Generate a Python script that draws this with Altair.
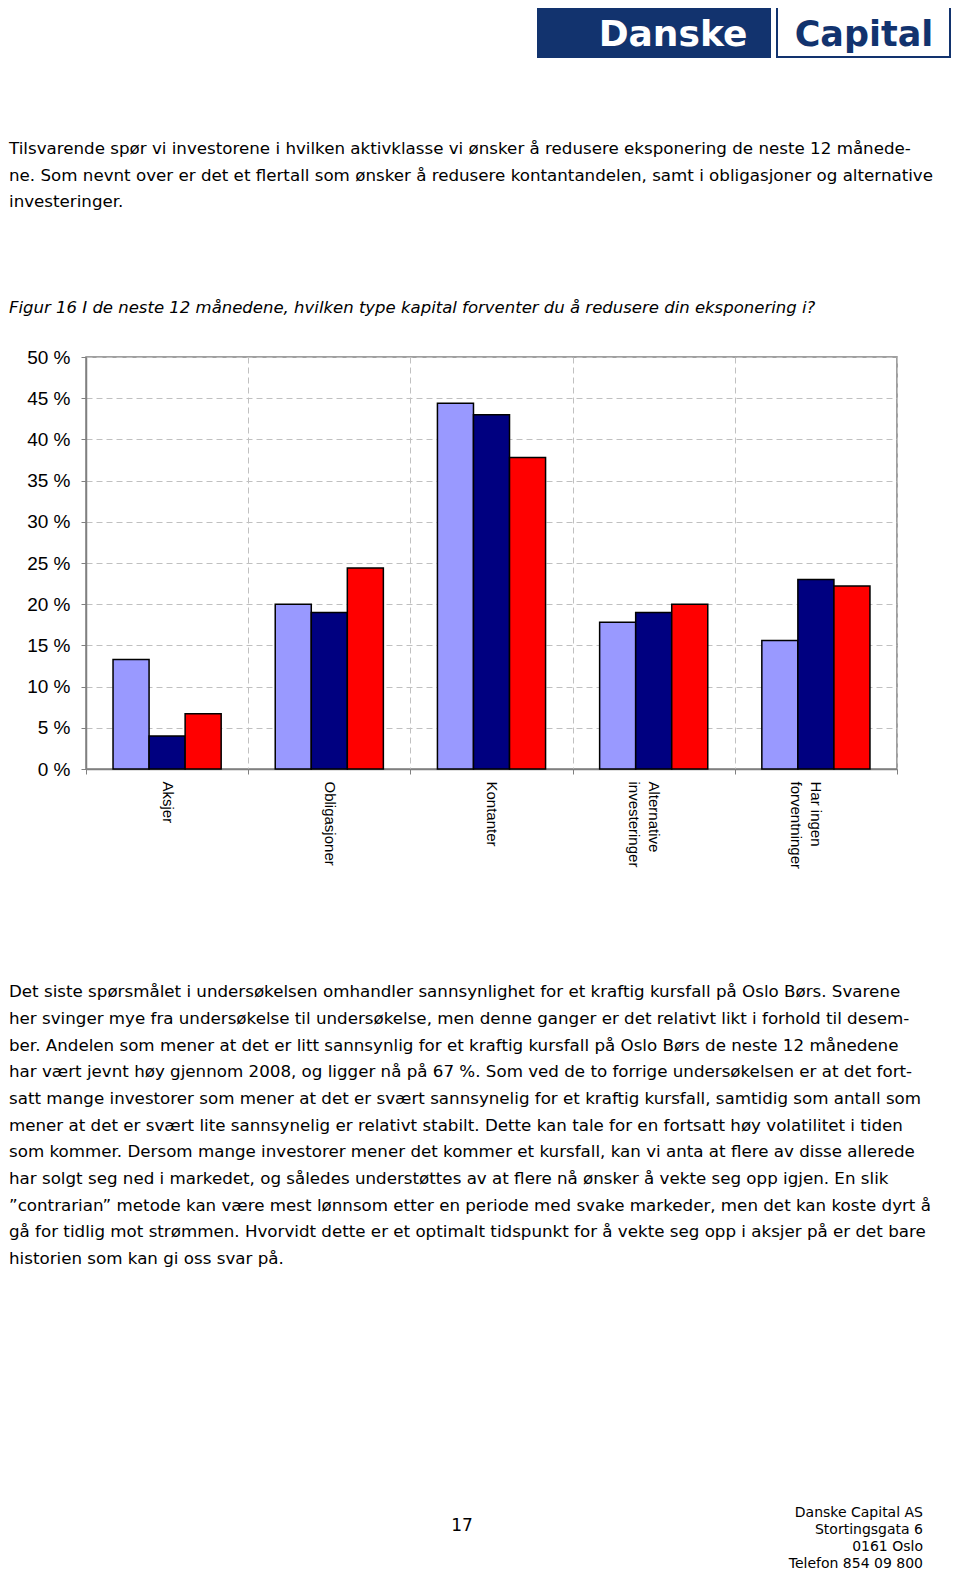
import altair as alt
import pandas as pd

# ---------------- data ----------------
categories = ["Aksjer", "Obligasjoner", "Kontanter", "Alternative investeringer", "Har ingen forventninger"]
series = ["Serie 1", "Serie 2", "Serie 3"]
serie_1 = [13.3, 20.0, 44.4, 17.8, 15.6]
serie_2 = [4.0, 19.0, 43.0, 19.0, 23.0]
serie_3 = [6.7, 24.4, 37.8, 20.0, 22.2]
colors = ["#9999FF", "#000080", "#FF0000"]
y_ticks = [0, 5, 10, 15, 20, 25, 30, 35, 40, 45, 50]
label_lines = {
    "Alternative investeringer": ["Alternative", "investeringer"],
    "Har ingen forventninger": ["Har ingen", "forventninger"],
}

intro_lines = [
    "Tilsvarende spør vi investorene i hvilken aktivklasse vi ønsker å redusere eksponering de neste 12 månede-",
    "ne. Som nevnt over er det et flertall som ønsker å redusere kontantandelen, samt i obligasjoner og alternative",
    "investeringer.",
]
caption = ["Figur 16 I de neste 12 månedene, hvilken type kapital forventer du å redusere din eksponering i?"]
body_lines = [
    "Det siste spørsmålet i undersøkelsen omhandler sannsynlighet for et kraftig kursfall på Oslo Børs. Svarene",
    "her svinger mye fra undersøkelse til undersøkelse, men denne ganger er det relativt likt i forhold til desem-",
    "ber. Andelen som mener at det er litt sannsynlig for et kraftig kursfall på Oslo Børs de neste 12 månedene",
    "har vært jevnt høy gjennom 2008, og ligger nå på 67 %. Som ved de to forrige undersøkelsen er at det fort-",
    "satt mange investorer som mener at det er svært sannsynelig for et kraftig kursfall, samtidig som antall som",
    "mener at det er svært lite sannsynelig er relativt stabilt. Dette kan tale for en fortsatt høy volatilitet i tiden",
    "som kommer. Dersom mange investorer mener det kommer et kursfall, kan vi anta at flere av disse allerede",
    "har solgt seg ned i markedet, og således understøttes av at flere nå ønsker å vekte seg opp igjen. En slik",
    "\u201dcontrarian\u201d metode kan være mest lønnsom etter en periode med svake markeder, men det kan koste dyrt å",
    "gå for tidlig mot strømmen. Hvorvidt dette er et optimalt tidspunkt for å vekte seg opp i aksjer på er det bare",
    "historien som kan gi oss svar på.",
]
page_number = ["17"]
address_lines = ["Danske Capital AS", "Stortingsgata 6", "0161 Oslo", "Telefon 854 09 800"]
logo_left = ["Danske"]
logo_right = ["Capital"]

# ---------------- table ----------------
rows = []
for s, vals in zip(series, [serie_1, serie_2, serie_3]):
    for c, v in zip(categories, vals):
        rows.append({"kategori": c, "serie": s, "andel": v})
df = pd.DataFrame(rows)

W, H = 811, 412
NAVY = "#12336E"

label_expr = ""
for k, parts in label_lines.items():
    arr = "[" + ", ".join("'" + p + "'" for p in parts) + "]"
    label_expr += f"datum.value == '{k}' ? {arr} : "
label_expr += "datum.label"

bars = alt.Chart(df).mark_bar(stroke="black", strokeWidth=1.5).encode(
    x=alt.X(
        "kategori:N",
        sort=categories,
        scale=alt.Scale(domain=categories, paddingInner=0, paddingOuter=0),
        axis=alt.Axis(
            title=None,
            labelAngle=90,
            labelAlign="left",
            labelBaseline="middle",
            labelFont="Liberation Sans",
            labelFontSize=15,
            labelColor="black",
            labelPadding=7,
            labelLineHeight=20,
            labelExpr=label_expr,
            tickBand="extent",
            tickSize=5,
            tickColor="#808080",
            domainColor="#808080",
            domainWidth=1.5,
            grid=True,
            gridColor="#C0C0C0",
            gridDash=[6, 4],
            gridWidth=1,
        ),
    ),
    xOffset=alt.XOffset(
        "serie:N", sort=series,
        scale=alt.Scale(domain=series, paddingInner=0, paddingOuter=0.75),
    ),
    y=alt.Y(
        "andel:Q",
        scale=alt.Scale(domain=[0, 50], nice=False),
        axis=alt.Axis(
            title=None,
            values=y_ticks,
            labelExpr="datum.value + ' %'",
            labelFont="Liberation Sans",
            labelFontSize=19,
            labelColor="black",
            labelPadding=11,
            tickSize=5,
            tickColor="#808080",
            domainColor="#808080",
            domainWidth=1.5,
            grid=True,
            gridColor="#C0C0C0",
            gridDash=[6, 4],
            gridWidth=1,
        ),
    ),
    color=alt.Color("serie:N", sort=series, scale=alt.Scale(domain=series, range=colors), legend=None),
)

one = alt.Data(values=[{}])


def text_block(lines, x0, y0, dy, size, font="DejaVu Sans", align="left", italic=False, color="black", weight="normal"):
    d = pd.DataFrame({"tekst": lines, "i": list(range(len(lines)))})
    return alt.Chart(d).mark_text(
        align=align, baseline="middle", font=font, fontSize=size,
        fontStyle="italic" if italic else "normal", fontWeight=weight, color=color,
    ).transform_calculate(py=f"{y0} + datum.i * {dy}").encode(
        x=alt.value(x0),
        y=alt.Y("py:Q", scale=None, axis=None),
        text="tekst:N",
    )


logo_dark = alt.Chart(one).mark_rect(color=NAVY).encode(
    x=alt.value(451), x2=alt.value(685), y=alt.value(-354), y2=alt.value(-299)
)
logo_white = alt.Chart(one).mark_rect(fill="white", stroke=NAVY, strokeWidth=2).encode(
    x=alt.value(691), x2=alt.value(864), y=alt.value(-353), y2=alt.value(-300)
)
logo_t1 = alt.Chart(pd.DataFrame({"t": logo_left})).mark_text(
    font="DejaVu Sans", fontWeight="bold", fontSize=36, color="white", align="center", baseline="alphabetic"
).encode(x=alt.value(587), y=alt.value(-311), text="t:N")
logo_t2 = alt.Chart(pd.DataFrame({"t": logo_right})).mark_text(
    font="DejaVu Sans", fontWeight="bold", fontSize=35, color=NAVY, align="center", baseline="alphabetic"
).encode(x=alt.value(778), y=alt.value(-311), text="t:N")

intro = text_block(intro_lines, -77, -208, 26.67, 16.7)
cap = text_block(caption, -77, -49, 0, 16.5, italic=True)
body = text_block(body_lines, -77, 635.3, 26.67, 16.7)
pnum = text_block(page_number, 376, 1169, 0, 17, align="center")
addr = text_block(address_lines, 837, 1156, 17, 14, align="right")

chart = alt.layer(
    bars, logo_dark, logo_white, logo_t1, logo_t2, intro, cap, body, pnum, addr
).properties(
    width=W,
    height=H,
    padding={"left": 78, "top": 349, "right": 55, "bottom": 801},
    autosize=alt.AutoSizeParams(type="none"),
    background="white",
).configure_view(stroke="#808080", strokeWidth=1.5)

chart.save("out.html", embed_options={"renderer": "svg", "actions": False})
